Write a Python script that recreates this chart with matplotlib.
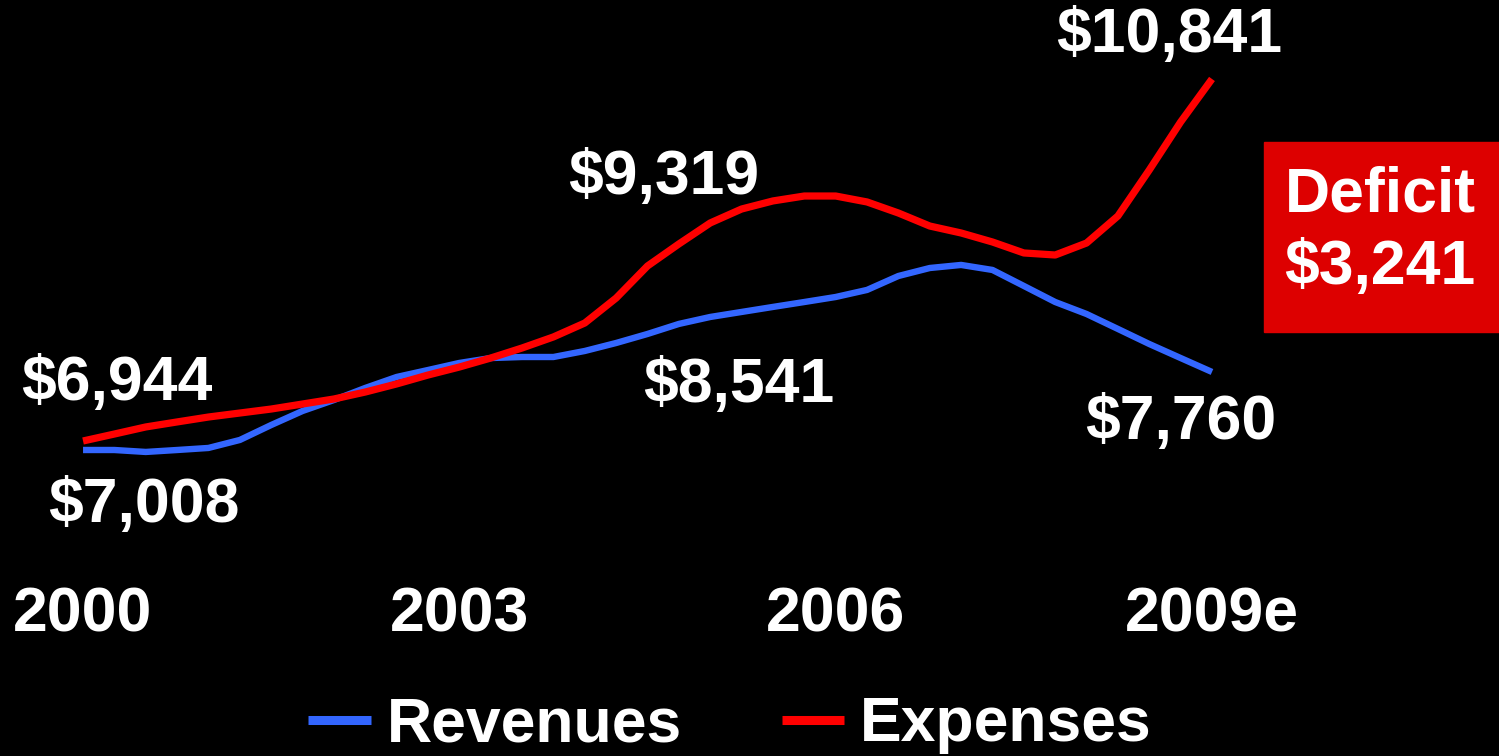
import matplotlib.pyplot as plt
from matplotlib.patches import Rectangle
from matplotlib.transforms import blended_transform_factory

# quarterly points, 2000 -> 2009e
quarters = [2000 + i / 4 for i in range(37)]

expenses = [6944, 7019, 7095, 7149, 7202, 7245, 7288, 7342, 7396, 7471,
            7558, 7654, 7740, 7837, 7945, 8064, 8214, 8483, 8828, 9065,
            9291, 9441, 9528, 9581, 9581, 9517, 9398, 9258, 9183, 9086,
            8968, 8946, 9075, 9366, 9861, 10378, 10841]

revenues = [6847, 6847, 6826, 6847, 6869, 6955, 7116, 7267, 7385, 7515,
            7633, 7708, 7784, 7837, 7848, 7848, 7913, 7999, 8096, 8204,
            8279, 8333, 8387, 8440, 8494, 8570, 8720, 8806, 8839, 8785,
            8613, 8440, 8311, 8150, 7988, 7837, 7687]

year_ticks = [2000, 2003, 2006, 2009]
year_labels = ["2000", "2003", "2006", "2009e"]

value_labels = ["$6,944", "$7,008", "$9,319", "$8,541", "$10,841", "$7,760"]
label_pos = [(117, 383), (144, 505), (664, 178), (739, 386), (1169, 35), (1181, 422)]

deficit_lines = ["Deficit", "$3,241"]

plt.rcParams['font.family'] = ['Liberation Sans', 'DejaVu Sans']
plt.rcParams['font.weight'] = 'bold'

W, H = 1499, 756
fig = plt.figure(figsize=(W / 100, H / 100), dpi=100, facecolor='black')
ax = fig.add_axes([0, 0, 1, 1])
ax.set_facecolor('black')
ax.axis('off')

ax.plot(quarters, revenues, color='#3366FF', lw=4.6, label='Revenues', solid_capstyle='butt')
ax.plot(quarters, expenses, color='#FF0000', lw=5.2, label='Expenses', solid_capstyle='butt')

ax.set_xlim(1999.338, 2011.288)
ax.set_ylim(3553, 11691)

for txt, (px, py) in zip(value_labels, label_pos):
    fig.text(px / W, 1 - py / H, txt, color='white', fontsize=45, fontweight='bold',
             ha='center', va='center')

trans = blended_transform_factory(ax.transData, fig.transFigure)
for yr, lab in zip(year_ticks, year_labels):
    ax.text(yr, 1 - 615 / H, lab, transform=trans, color='white', fontsize=45,
            fontweight='bold', ha='center', va='center')

# deficit box
fig.patches.append(Rectangle((1264 / W, 1 - 332 / H), 1 - 1264 / W, 190 / H,
                             transform=fig.transFigure, color='#DD0000', zorder=0))
for txt, py in zip(deficit_lines, [195, 268]):
    fig.text(1380 / W, 1 - py / H, txt, color='white', fontsize=45,
             fontweight='bold', ha='center', va='center')

leg = fig.legend(loc='center', bbox_to_anchor=(730 / W, 1 - 725 / H), ncol=2,
                 frameon=False, fontsize=45, handlelength=1.0, handletextpad=0.25,
                 columnspacing=1.6, labelcolor='white')
for h in leg.get_lines():
    h.set_linewidth(6.5)

fig.savefig('out.png', dpi=100, facecolor='black')
